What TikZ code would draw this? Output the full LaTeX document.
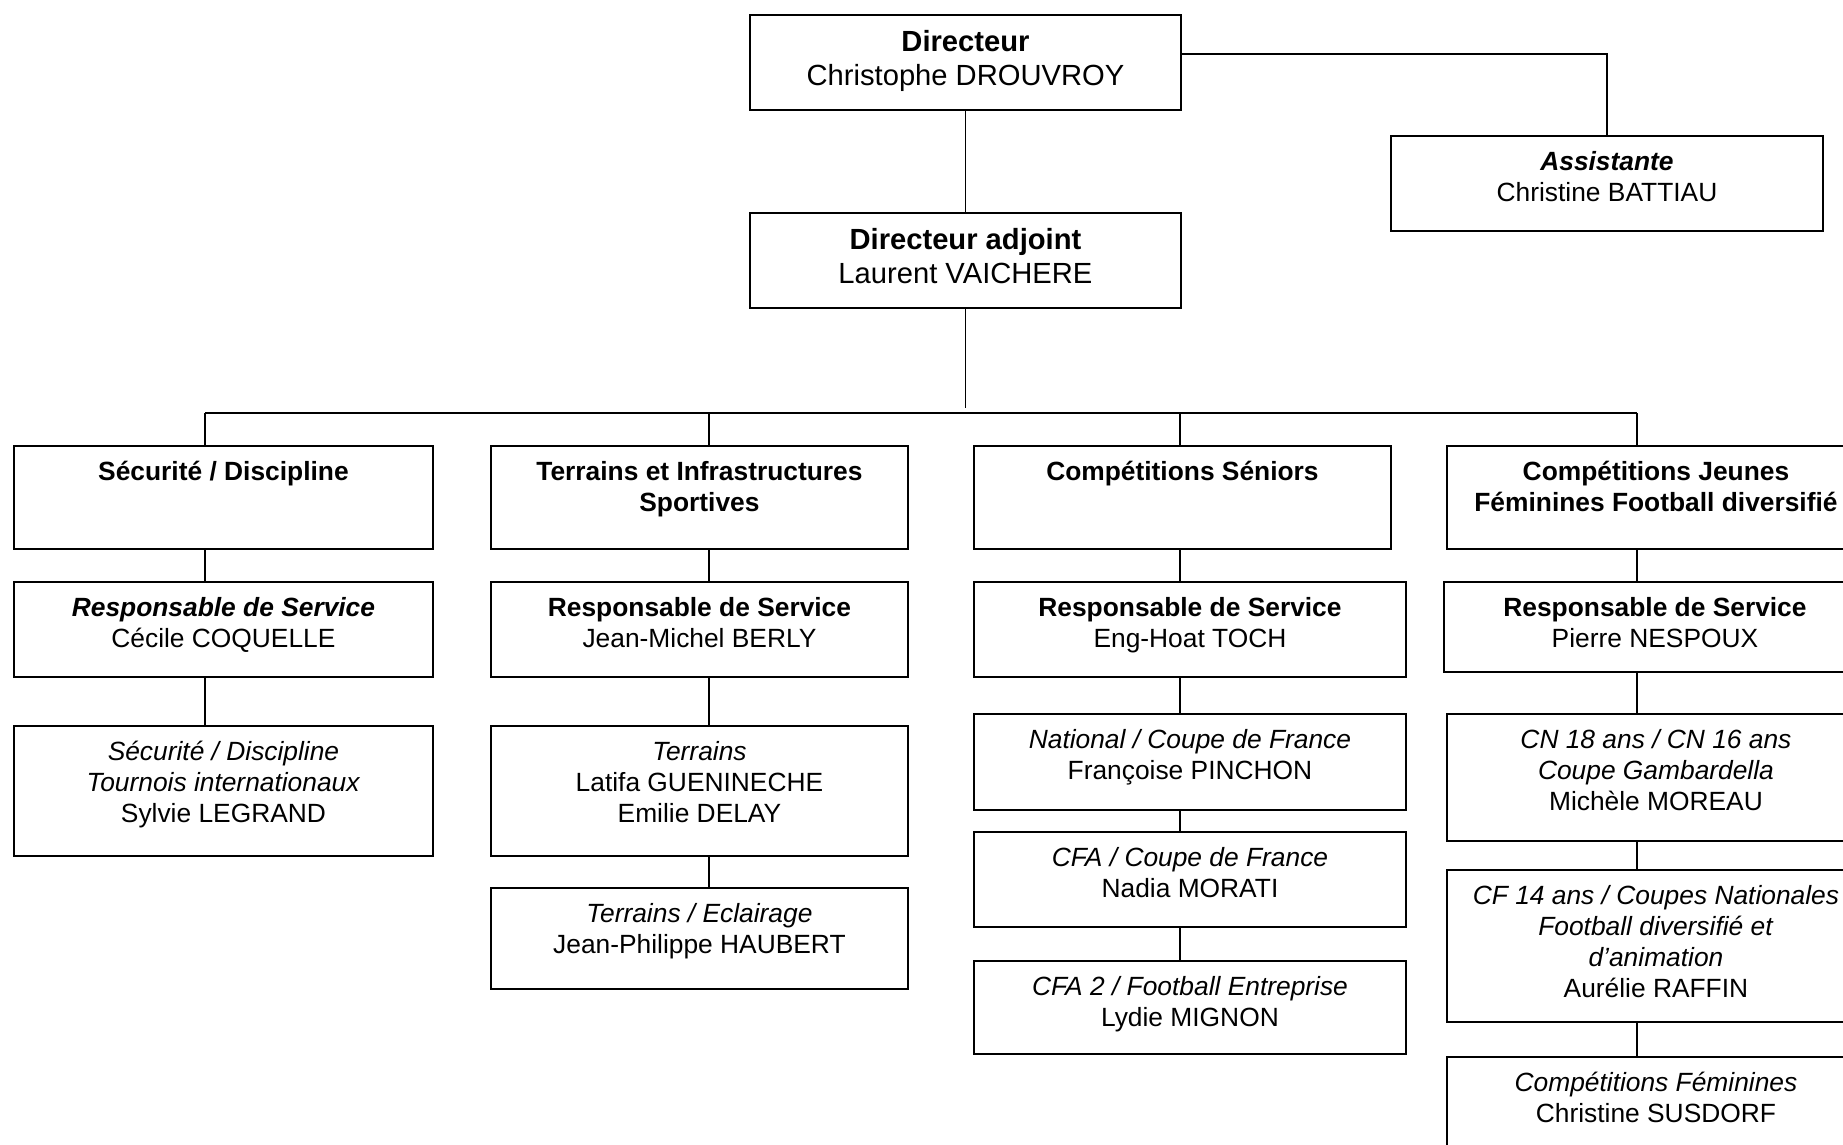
\documentclass[tikz,border=0pt]{standalone}
\usepackage{fontspec}
\setmainfont{Liberation Sans}
\usepackage{tikz}

\begin{document}
\begin{tikzpicture}[x=0.02cm,y=-0.02cm,
	unit/.style 2 args={draw, line width=1.1pt, anchor=north west, inner sep=0pt,
		minimum width=#1*0.02cm, minimum height=#2*0.02cm},
	txt/.style={anchor=north, align=center, inner sep=0pt, font=\fontsize{15}{17.6}\selectfont},
	bigtxt/.style={txt, font=\fontsize{16.6}{19.4}\selectfont},
	link/.style={line width=0.8pt}]
	% Page frame
	\useasboundingbox (0,0) rectangle (1843,1145);
	\clip (0,0) rectangle (1843,1145);
	% Direction
	\node[unit={431}{95}] (dir) at (749,14) {};
	\node[unit={432}{95}] (asst) at (1390,135) {};
	\node[unit={431}{95}] (adj) at (749,212) {};
	\node[bigtxt] (dir-t) at ([yshift=-0.32cm]dir.north) {\textbf{Directeur}\\Christophe DROUVROY};
	\node[txt] (asst-t) at ([yshift=-0.32cm]asst.north) {\textbf{\textit{Assistante}}\\Christine BATTIAU};
	\node[bigtxt] (adj-t) at ([yshift=-0.32cm]adj.north) {\textbf{Directeur adjoint}\\Laurent VAICHERE};
	% Column 1
	\node[unit={419}{103}] (sec) at (13,445) {};
	\node[unit={419}{95}] (secr) at (13,581) {};
	\node[unit={419}{130}] (secs) at (13,725) {};
	\node[txt] (sec-t) at ([yshift=-0.32cm]sec.north) {\textbf{Sécurité / Discipline}};
	\node[txt] (secr-t) at ([yshift=-0.32cm]secr.north) {\textbf{\textit{Responsable de Service}}\\Cécile COQUELLE};
	\node[txt] (secs-t) at ([yshift=-0.32cm]secs.north) {\textit{Sécurité / Discipline}\\\textit{Tournois internationaux}\\Sylvie LEGRAND};
	% Column 2
	\node[unit={417}{103}] (ter) at (490,445) {};
	\node[unit={417}{95}] (terr) at (490,581) {};
	\node[unit={417}{130}] (ters) at (490,725) {};
	\node[unit={417}{101}] (tere) at (490,887) {};
	\node[txt] (ter-t) at ([yshift=-0.32cm]ter.north) {\textbf{Terrains et Infrastructures}\\\textbf{Sportives}};
	\node[txt] (terr-t) at ([yshift=-0.32cm]terr.north) {\textbf{Responsable de Service}\\Jean-Michel BERLY};
	\node[txt] (ters-t) at ([yshift=-0.32cm]ters.north) {\textit{Terrains}\\Latifa GUENINECHE\\Emilie DELAY};
	\node[txt] (tere-t) at ([yshift=-0.32cm]tere.north) {\textit{Terrains / Eclairage}\\Jean-Philippe HAUBERT};
	% Column 3
	\node[unit={417}{103}] (sen) at (973,445) {};
	\node[unit={432}{95}] (senr) at (973,581) {};
	\node[unit={432}{96}] (senn) at (973,713) {};
	\node[unit={432}{95}] (senc) at (973,831) {};
	\node[unit={432}{93}] (sene) at (973,960) {};
	\node[txt] (sen-t) at ([yshift=-0.32cm]sen.north) {\textbf{Compétitions Séniors}};
	\node[txt] (senr-t) at ([yshift=-0.32cm]senr.north) {\textbf{Responsable de Service}\\Eng-Hoat TOCH};
	\node[txt] (senn-t) at ([yshift=-0.32cm]senn.north) {\textit{National / Coupe de France}\\Françoise PINCHON};
	\node[txt] (senc-t) at ([yshift=-0.32cm]senc.north) {\textit{CFA / Coupe de France}\\Nadia MORATI};
	\node[txt] (sene-t) at ([yshift=-0.32cm]sene.north) {\textit{CFA 2 / Football Entreprise}\\Lydie MIGNON};
	% Column 4
	\node[unit={418}{103}] (jeu) at (1446,445) {};
	\node[unit={422}{90}] (jeur) at (1443,581) {};
	\node[unit={418}{127}] (jeun) at (1446,713) {};
	\node[unit={418}{152}] (jeuc) at (1446,869) {};
	\node[unit={418}{150}] (jeuf) at (1446,1056) {};
	\node[txt] (jeu-t) at ([yshift=-0.32cm]jeu.north) {\textbf{Compétitions Jeunes}\\\textbf{Féminines Football diversifié}};
	\node[txt] (jeur-t) at ([yshift=-0.32cm]jeur.north) {\textbf{Responsable de Service}\\Pierre NESPOUX};
	\node[txt] (jeun-t) at ([yshift=-0.32cm]jeun.north) {\textit{CN 18 ans / CN 16 ans}\\\textit{Coupe Gambardella}\\Michèle MOREAU};
	\node[txt] (jeuc-t) at ([yshift=-0.32cm]jeuc.north) {\textit{CF 14 ans / Coupes Nationales}\\\textit{Football diversifié et}\\\textit{d’animation}\\Aurélie RAFFIN};
	\node[txt] (jeuf-t) at ([yshift=-0.32cm]jeuf.north) {\textit{Compétitions Féminines}\\Christine SUSDORF};
	% Connectors
	\coordinate (hub) at (964,408);
	\coordinate (s1) at (205,413);
	\coordinate (s2) at (709,413);
	\coordinate (s3) at (1180,413);
	\coordinate (s4) at (1637,413);
	\draw[line width=1.1pt] ([yshift=0.17cm]dir.east) -| (asst.north);
	\draw[link] (dir.south) -- (adj.north);
	\draw[link] (adj.south) -- (adj.south |- hub);
	\draw[link] (s1) -- (s4);
	\foreach \s/\a in {s1/sec,s2/ter,s3/sen,s4/jeu} \draw[link] (\s) -- (\a.north -| \s);
	\foreach \s/\a/\b in {s1/sec/secr,s1/secr/secs,s2/ter/terr,s2/terr/ters,s2/ters/tere,
		s3/sen/senr,s3/senr/senn,s3/senn/senc,s3/senc/sene,
		s4/jeu/jeur,s4/jeur/jeun,s4/jeun/jeuc,s4/jeuc/jeuf}
		\draw[link] (\a.south -| \s) -- (\b.north -| \s);
\end{tikzpicture}
\end{document}
